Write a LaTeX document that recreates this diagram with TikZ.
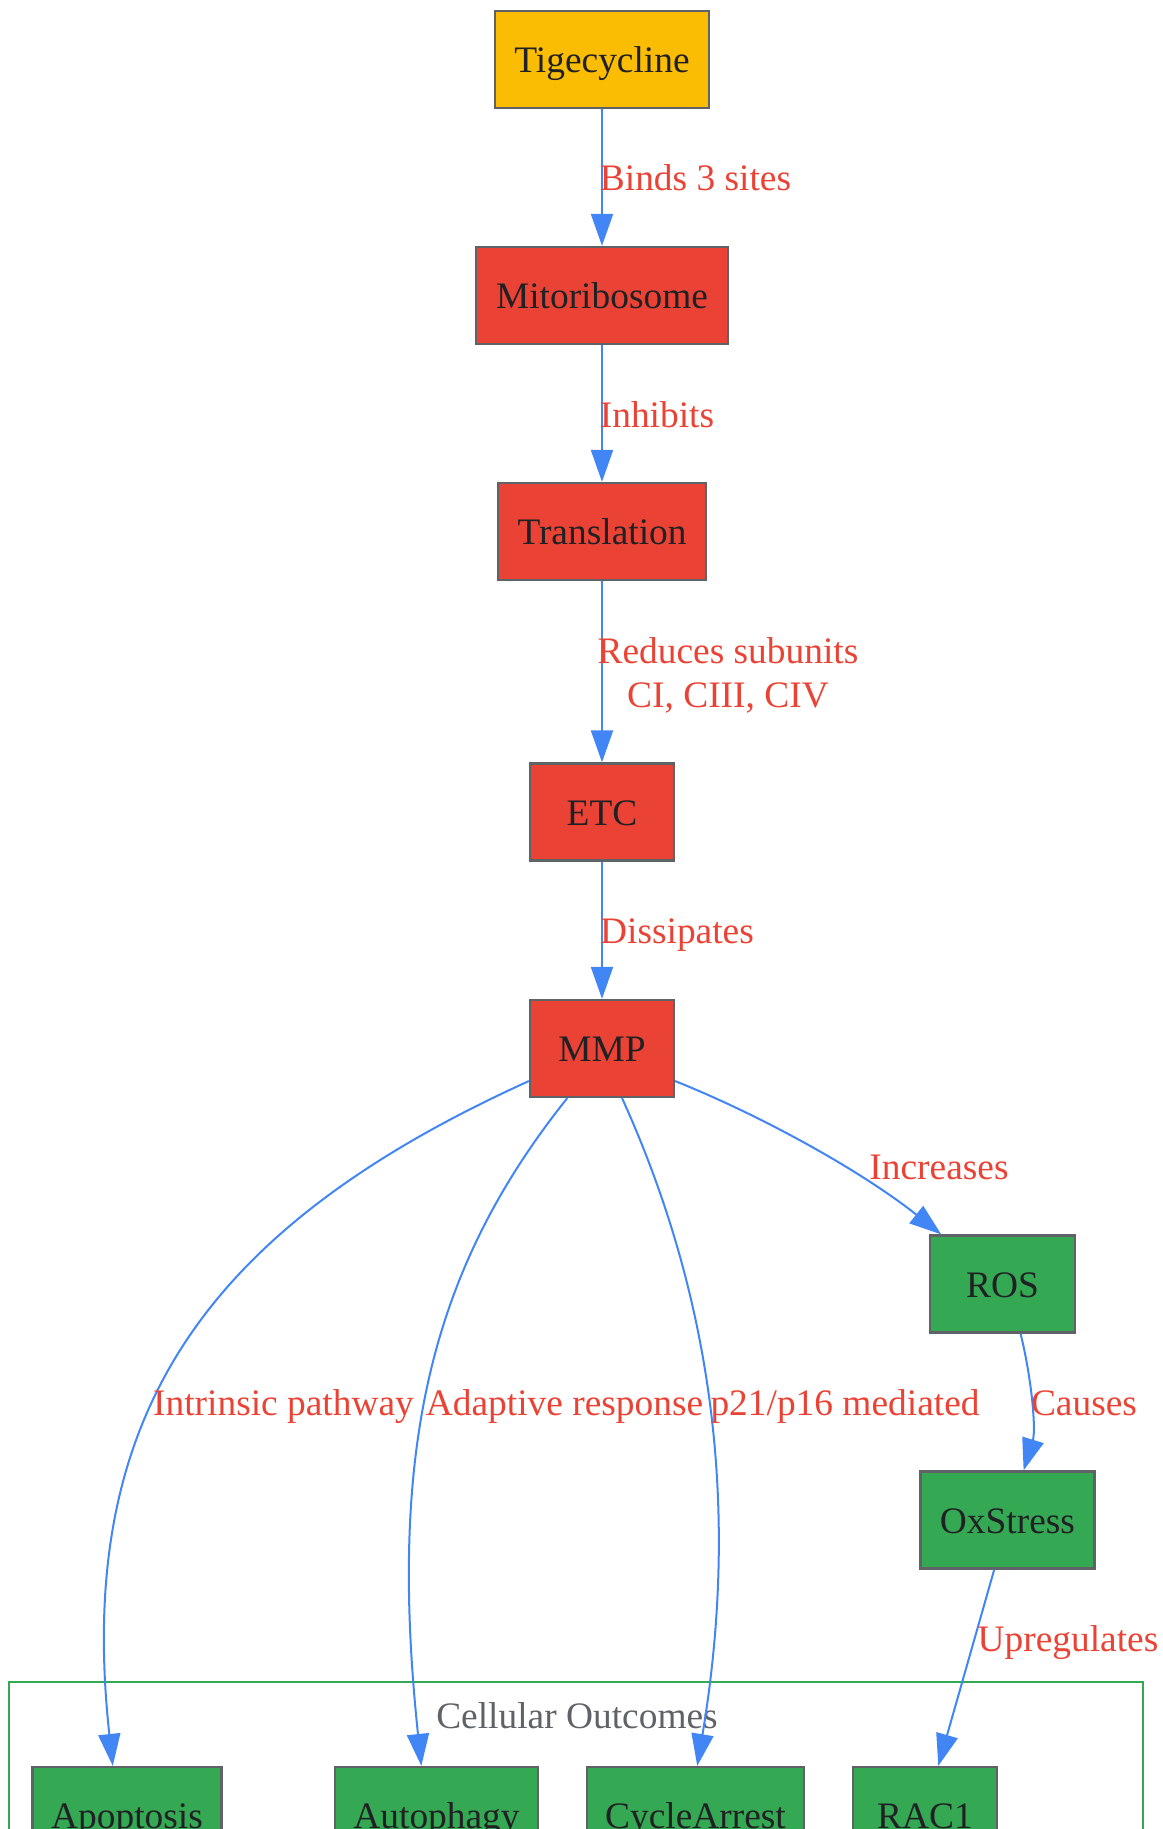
\documentclass[tikz,border=0pt]{standalone}
\usepackage{fontspec}
\setmainfont{Liberation Serif}
\usetikzlibrary{arrows.meta,positioning}
\definecolor{gyellow}{HTML}{FBBC04}
\definecolor{gred}{HTML}{EA4335}
\definecolor{ggreen}{HTML}{34A853}
\definecolor{gblue}{HTML}{4285F4}
\definecolor{ggray}{HTML}{5F6368}
\definecolor{gink}{HTML}{202124}
\tikzset{
  box/.style={draw=ggray,line width=1.1pt,text=gink,minimum height=48.5pt,inner sep=0pt,
    text height=17pt,text depth=4pt,font=\fontsize{18.7pt}{22pt}\selectfont},
  drug/.style={box,fill=gyellow},
  mitobox/.style={box,fill=gred},
  outcome/.style={box,fill=ggreen},
  lbl/.style={text=gred,inner sep=0pt,anchor=base,font=\fontsize{18.7pt}{22pt}\selectfont},
  flow/.style={gblue,line width=1pt,-{Triangle[length=16pt,width=11pt]}}
}
\begin{document}
\begin{tikzpicture}[x=0.5pt,y=-0.5pt]
\clip (0,0) rectangle (1162,1829);
\node[drug,minimum width=107pt] (tig) at (602,59.5) {Tigecycline};
\node[mitobox,minimum width=126pt] (mito) at (602,295.5) {Mitoribosome};
\node[mitobox,minimum width=104pt] (trans) at (602,531.5) {Translation};
\node[mitobox,minimum width=72pt] (etc) at (602,812) {ETC};
\node[mitobox,minimum width=72pt] (mmp) at (602,1048.5) {MMP};
\node[outcome,minimum width=72.5pt] (ros) at (1002.5,1284) {ROS};
\node[outcome,minimum width=87pt] (oxs) at (1007.5,1520) {OxStress};

\draw[ggreen,line width=1pt] (9,1682) rectangle (1143,1900);
\node[text=ggray,inner sep=0pt,anchor=base,font=\fontsize{18.7pt}{22pt}\selectfont] (clu) at (577,1728) {Cellular Outcomes};
\node[outcome,minimum width=94.5pt] (apo) at (127,1815.5) {Apoptosis};
\node[outcome,minimum width=101.5pt] (aut) at (436.5,1815.5) {Autophagy};
\node[outcome,minimum width=108.5pt] (cyc) at (695.5,1815.5) {CycleArrest};
\node[outcome,minimum width=72pt] (rac) at (925,1815.5) {RAC1};

\draw[flow] (tig) -- (mito);
\draw[flow] (mito) -- (trans);
\draw[flow] (trans) -- (etc);
\draw[flow] (etc) -- (mmp);
\draw[flow] (mmp.336) .. controls (760,1115) and (860,1170) .. (ros.141);
\draw[flow] (ros.290) .. controls (1032,1380) and (1036,1430) .. (oxs.72);
\draw[flow] (oxs.255) -- (rac.75);
\draw[flow] (mmp.204) .. controls (200,1230) and (75,1420) .. (apo.106);
\draw[flow] (mmp.235) .. controls (430,1270) and (388,1450) .. (aut.107);
\draw[flow] (mmp.292) .. controls (700,1270) and (745,1480) .. (cyc.88);

\node[lbl] (lbinds) at (695.5,191) {Binds 3 sites};
\node[lbl] (linhib) at (657,427) {Inhibits};
\node[lbl,anchor=center,align=center] (lreduce) at (728,675) {Reduces subunits\\CI, CIII, CIV};
\node[lbl] (ldiss) at (677,943) {Dissipates};
\node[lbl] (lincr) at (939,1179) {Increases};
\node[lbl] (lintr) at (283.5,1415) {Intrinsic pathway};
\node[lbl] (ladapt) at (564.5,1415) {Adaptive response};
\node[lbl] (lp21) at (845,1415) {p21/p16 mediated};
\node[lbl] (lcause) at (1084,1415) {Causes};
\node[lbl] (lupreg) at (1068,1651) {Upregulates};
\end{tikzpicture}
\end{document}
